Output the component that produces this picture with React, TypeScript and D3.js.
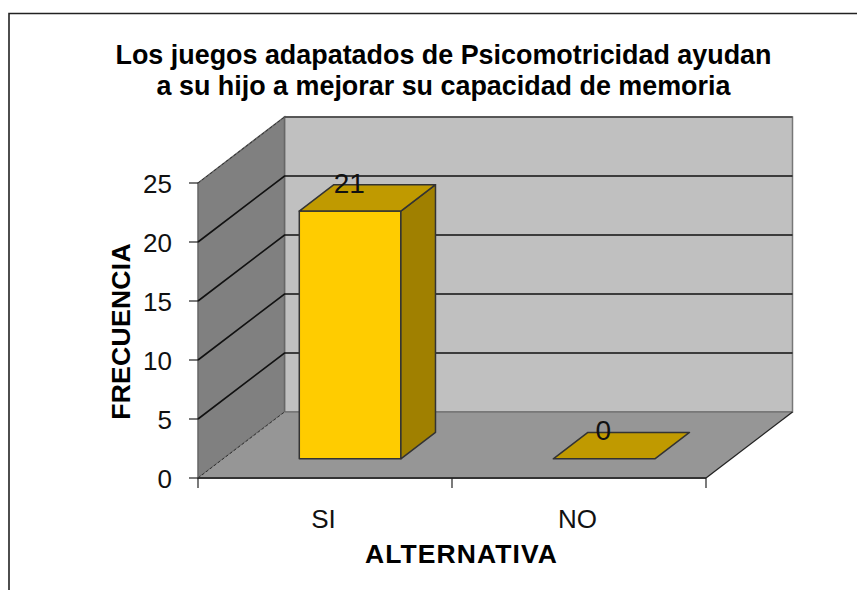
import React from "react";
import * as d3 from "d3";

const categories = ["SI", "NO"];
const values = [21, 0];
const yTicks = [0, 5, 10, 15, 20, 25];
const titleLines = [
  "Los juegos adapatados de Psicomotricidad ayudan",
  "a su hijo a mejorar su capacidad de memoria",
];
const yTitle = "FRECUENCIA";
const xTitle = "ALTERNATIVA";

const FONT = "'Liberation Sans', Arial, sans-serif";
const x = d3.scaleBand<string>().domain(categories).range([198, 706]).paddingInner(0).paddingOuter(0);
const y = d3.scaleLinear().domain([0, 25]).range([478, 183]);
const DX = 86.5;
const DY = -66;
const barW = x.bandwidth() / 2.5;
const barDepthStart = 0.29;
const barDepthEnd = 0.69;

const poly = (pts: [number, number][]) => d3.line()(pts) + "Z";

export default function App() {
  const x0 = x.range()[0];
  const x1 = x.range()[1];
  const y0 = y(0);
  const y1 = y(25);
  const edge = "#333";
  return (
    <svg
      width={857}
      height={590}
      style={{ position: "absolute", left: 0, top: 0, background: "#fff" }}
      fontFamily={FONT}
    >
      <path d="M9 590V13.5H857" fill="none" stroke="#222" strokeWidth={1.6} />
      {titleLines.map((t, i) => (
        <text key={t} x={443.5} y={64 + i * 30.5} textAnchor="middle" fontSize={26.9} fontWeight={700} fill="#000">
          {t}
        </text>
      ))}
      {/* walls */}
      <path d={poly([[x0 + DX, y1 + DY], [x1 + DX, y1 + DY], [x1 + DX, y0 + DY], [x0 + DX, y0 + DY]])} fill="#c0c0c0" stroke="#777" strokeWidth={1.5} />
      <path d={poly([[x0, y0], [x0, y1], [x0 + DX, y1 + DY], [x0 + DX, y0 + DY]])} fill="#808080" stroke="#666" strokeWidth={1.5} />
      <path d={poly([[x0, y0], [x0 + DX, y0 + DY], [x1 + DX, y0 + DY], [x1, y0]])} fill="#969696" stroke="none" />
      <path d={`M${x0} ${y0}L${x0 + DX} ${y0 + DY}`} stroke="#333" strokeDasharray="3 2" fill="none" />
      <path d={`M${x0} ${y1}L${x0 + DX} ${y1 + DY}`} stroke="#333" strokeDasharray="3 2" fill="none" />
      <path d={`M${x0 + DX} ${y1 + DY}H${x1 + DX}`} stroke="#444" strokeWidth={1.6} fill="none" />
      <path d={`M${x0 + DX} ${y0 + DY}H${x1 + DX}`} stroke="#666" fill="none" />
      <path d={`M${x1} ${y0}L${x1 + DX} ${y0 + DY}`} stroke="#222" strokeWidth={1.3} fill="none" />
      {/* gridlines */}
      {yTicks.filter((t) => t > 0 && t < 25).map((t) => (
        <path key={t} d={`M${x0} ${y(t)}L${x0 + DX} ${y(t) + DY}H${x1 + DX}`} fill="none" stroke="#111" strokeWidth={1.6} />
      ))}
      {/* axes */}
      <path d={`M${x0} ${y0}H${x1}`} stroke="#333" strokeWidth={2} fill="none" />
      {yTicks.map((t) => (
        <g key={t}>
          <line x1={x0 - 9} x2={x0} y1={y(t)} y2={y(t)} stroke="#222" strokeWidth={1.2} />
          <text x={x0 - 26} y={y(t) + 10} textAnchor="end" fontSize={26} fill="#111">{t}</text>
        </g>
      ))}
      {[x0, x0 + x.bandwidth(), x1].map((v) => (
        <line key={v} x1={v} x2={v} y1={y0} y2={y0 + 10} stroke="#222" strokeWidth={1.2} />
      ))}
      {/* bars */}
      {categories.map((c, i) => {
        const v = values[i];
        const bl = (x(c) as number) + x.bandwidth() * 0.3 + DX * barDepthStart;
        const br = bl + barW;
        const fy0 = y0 + DY * barDepthStart;
        const fy1 = y(v) + DY * barDepthStart;
        const ddx = DX * (barDepthEnd - barDepthStart);
        const ddy = DY * (barDepthEnd - barDepthStart);
        return (
          <g key={c} stroke={edge} strokeWidth={1.5} strokeLinejoin="round">
            {v > 0 && <path d={poly([[bl, fy0], [br, fy0], [br, fy1], [bl, fy1]])} fill="#ffcc00" />}
            {v > 0 && <path d={poly([[br, fy0], [br + ddx, fy0 + ddy], [br + ddx, fy1 + ddy], [br, fy1]])} fill="#a08000" />}
            <path d={poly([[bl, fy1], [br, fy1], [br + ddx, fy1 + ddy], [bl + ddx, fy1 + ddy]])} fill="#c09a00" />
          </g>
        );
      })}
      {categories.map((c, i) => {
        const cx = (x(c) as number) + x.bandwidth() * 0.5 + DX * barDepthStart + 0.5 * (DX * (barDepthEnd - barDepthStart));
        return (
          <text key={c} x={cx - 18} y={y(values[i]) + DY * barDepthEnd + 8} textAnchor="middle" fontSize={28} fill="#111">
            {values[i]}
          </text>
        );
      })}
      {categories.map((c) => (
        <text key={c} x={(x(c) as number) + x.bandwidth() / 2 - 1.5} y={528} textAnchor="middle" fontSize={26} fill="#111">
          {c}
        </text>
      ))}
      <text x={461.5} y={563} textAnchor="middle" fontSize={26.5} fontWeight={700} fill="#000" letterSpacing={1.1}>{xTitle}</text>
      <text transform="translate(130,331.5) rotate(-90)" textAnchor="middle" fontSize={26.5} fontWeight={700} fill="#000" letterSpacing={0.3}>{yTitle}</text>
    </svg>
  );
}
